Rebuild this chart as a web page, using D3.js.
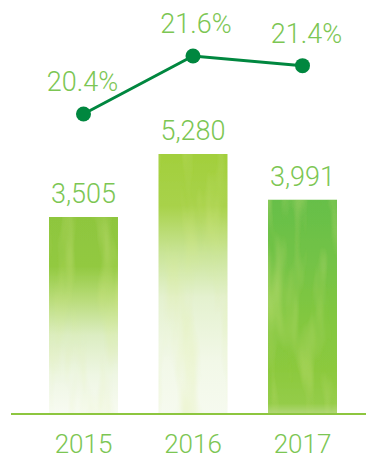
<!DOCTYPE html>
<html>
<head>
<meta charset="utf-8">
<script src="https://cdn.jsdelivr.net/npm/d3@7"></script>
<style>
  html, body { margin: 0; padding: 0; background: #fff; }
  svg { display: block; }
  text { font-family: Roboto, "Liberation Sans", sans-serif; font-weight: 300; }
</style>
</head>
<body>
<svg id="chart" width="366" height="460"></svg>
<script>
const years = ["2015", "2016", "2017"];
const revenue = [3505, 5280, 3991];
const margin = [20.4, 21.6, 21.4];
const revenueLabels = ["3,505", "5,280", "3,991"];
const marginLabels = ["20.4%", "21.6%", "21.4%"];

const svg = d3.select("#chart");
const baseY = 414;

const x = d3.scaleBand().domain(years).range([49, 337]).paddingInner(0.37).paddingOuter(0);
const y = d3.scaleLinear().domain([-2046, 5280]).range([baseY, 154]);
const y2 = d3.scaleLinear().domain([20.4, 21.6]).range([114, 56]);

const defs = svg.append("defs");

const grads = [
  [[0, "#8ec63e"], [0.25, "#92c940"], [0.42, "#b9dc7a"], [0.6, "#dcedc2"], [0.8, "#eef6e3"], [1, "#f8fbf2"]],
  [[0, "#a2cf3c"], [0.2, "#a8d24a"], [0.38, "#c9e497"], [0.55, "#e4f1cf"], [0.8, "#f2f8e8"], [1, "#f6faef"]],
  [[0, "#66bf48"], [0.3, "#74c346"], [0.55, "#82c740"], [0.8, "#8cc93e"], [0.95, "#94cc48"], [1, "#b3d87a"]]
];
grads.forEach((stops, i) => {
  const g = defs.append("linearGradient").attr("id", "g" + i)
    .attr("x1", 0).attr("y1", 0).attr("x2", 0).attr("y2", 1);
  stops.forEach(s => g.append("stop").attr("offset", s[0]).attr("stop-color", s[1]));
});

const f = defs.append("filter").attr("id", "tex").attr("x", 0).attr("y", 0).attr("width", 1).attr("height", 1);
f.append("feTurbulence").attr("type", "fractalNoise").attr("baseFrequency", "0.04 0.008")
  .attr("numOctaves", 3).attr("seed", 7).attr("result", "noise");
f.append("feColorMatrix").attr("in", "noise").attr("type", "matrix")
  .attr("values", "0 0 0 0 0.72  0 0 0 0 0.85  0 0 0 0 0.25  0.9 0 0 0 -0.42").attr("result", "tint");
f.append("feComposite").attr("in", "tint").attr("in2", "SourceGraphic").attr("operator", "in").attr("result", "tintIn");
f.append("feMerge").call(m => {
  m.append("feMergeNode").attr("in", "SourceGraphic");
  m.append("feMergeNode").attr("in", "tintIn");
});

svg.append("g").selectAll("rect").data(revenue).join("rect")
  .attr("x", (d, i) => x(years[i]))
  .attr("y", d => y(d))
  .attr("width", x.bandwidth())
  .attr("height", d => baseY - y(d))
  .attr("fill", (d, i) => `url(#g${i})`)
  .attr("filter", "url(#tex)");

const axis = svg.append("g").attr("transform", `translate(0,${baseY})`)
  .call(d3.axisBottom(x).tickSize(0).tickPadding(39));
axis.select(".domain").attr("d", `M11,0H366`).attr("stroke", "#8dc63f").attr("stroke-width", 2);
axis.selectAll("text").attr("fill", "#7cc653").attr("font-size", 26)
  .attr("font-family", "Roboto, 'Liberation Sans', sans-serif").attr("font-weight", 300)
  .attr("dy", 0);

svg.append("g").selectAll("text").data(revenue).join("text")
  .attr("x", (d, i) => x(years[i]) + x.bandwidth() / 2)
  .attr("y", d => y(d) - 14)
  .attr("text-anchor", "middle")
  .attr("font-size", 27)
  .attr("fill", "#7cc653")
  .text((d, i) => revenueLabels[i]);

const cx = (d, i) => x(years[i]) + x.bandwidth() / 2;
svg.append("path").datum(margin)
  .attr("d", d3.line().x(cx).y(d => y2(d)))
  .attr("fill", "none").attr("stroke", "#00873f").attr("stroke-width", 3);
svg.append("g").selectAll("circle").data(margin).join("circle")
  .attr("cx", cx).attr("cy", d => y2(d)).attr("r", 7.5).attr("fill", "#00873f");
svg.append("g").selectAll("text").data(margin).join("text")
  .attr("x", (d, i) => cx(d, i) + [-1, 3, 4][i])
  .attr("y", d => y2(d) - 23)
  .attr("text-anchor", "middle")
  .attr("font-size", 27)
  .attr("fill", "#7cc653")
  .text((d, i) => marginLabels[i]);
</script>
</body>
</html>
